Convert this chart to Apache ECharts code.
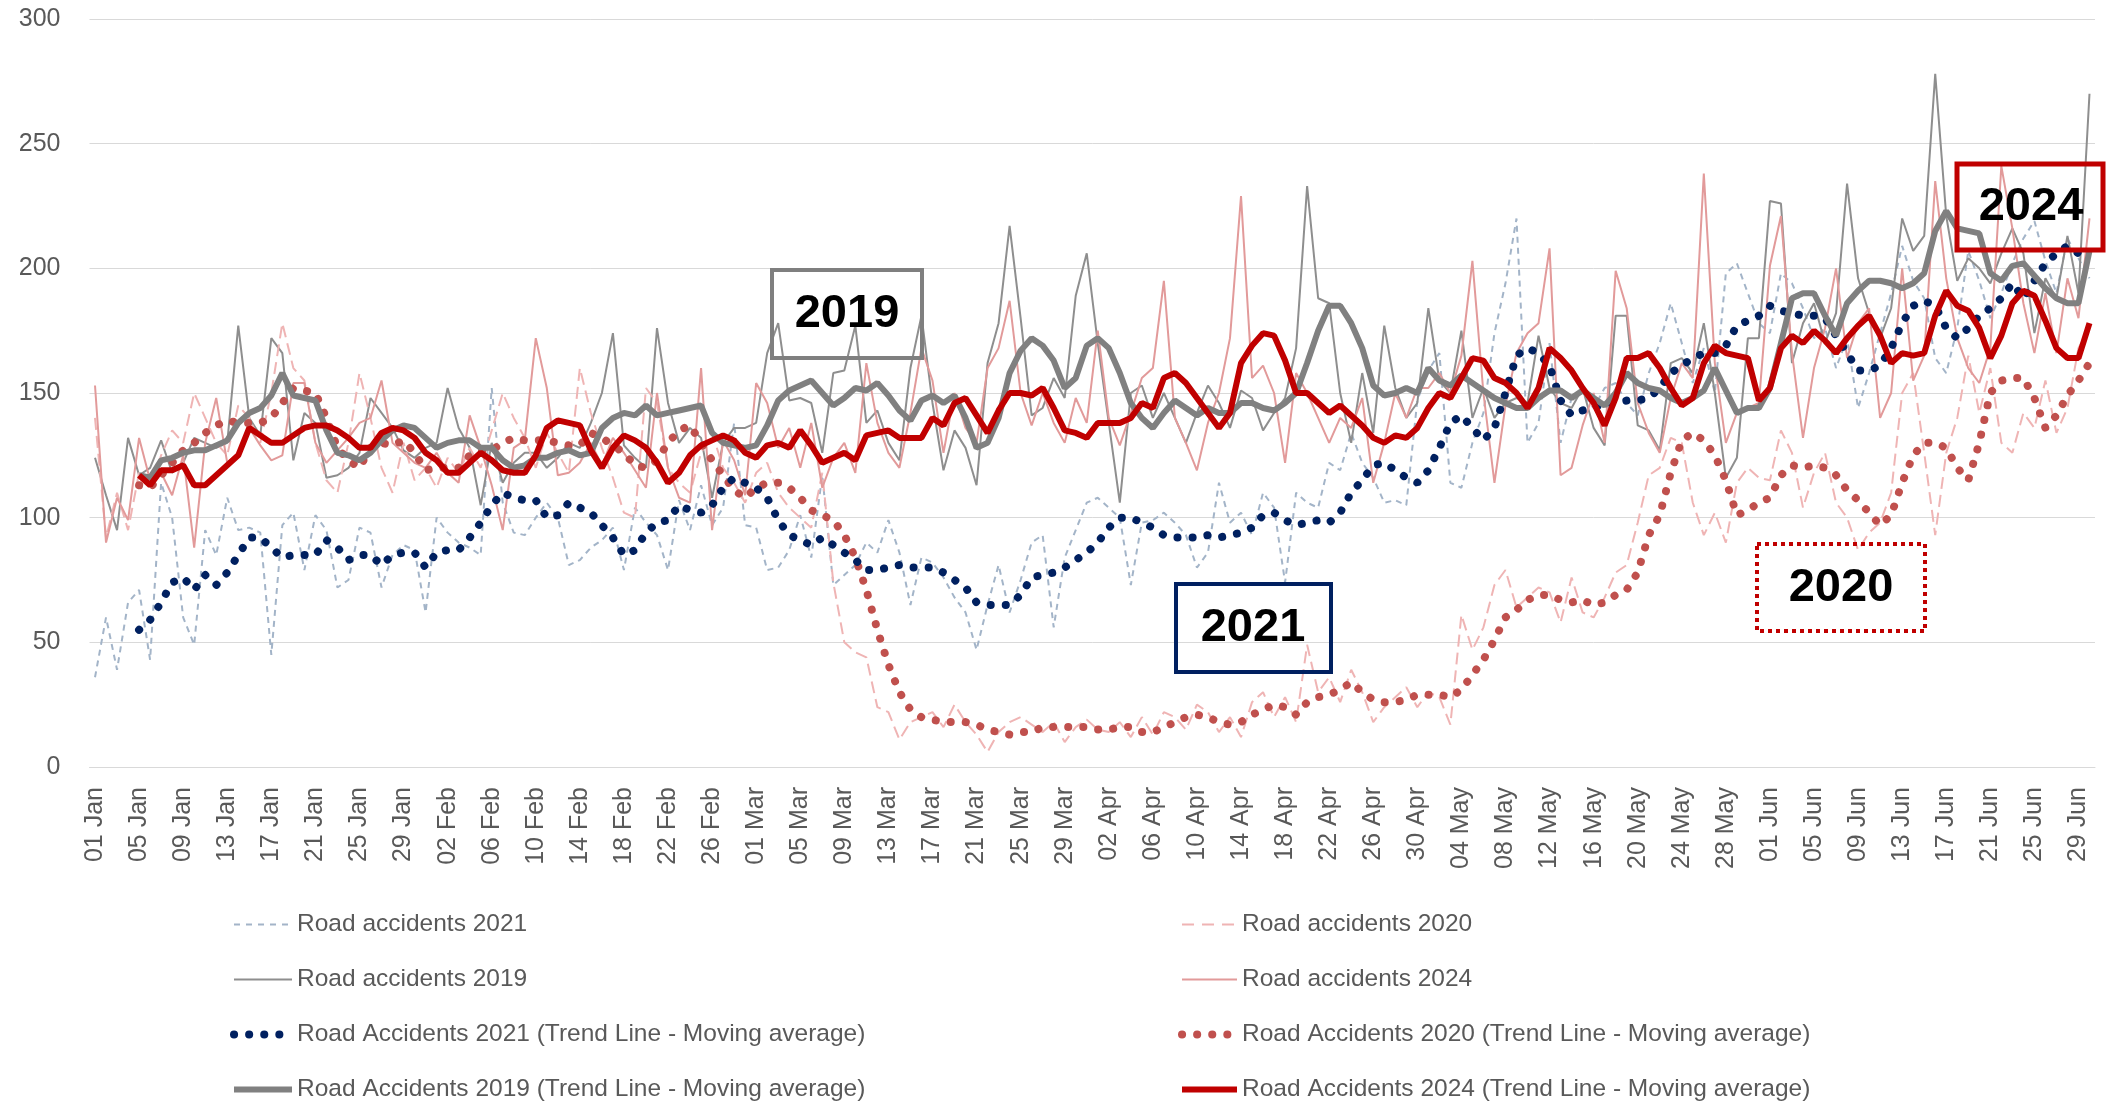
<!DOCTYPE html>
<html>

<head>
    <meta charset="UTF-8">
    <title>Road accidents</title>
    <script src="https://cdn.jsdelivr.net/npm/echarts@6/dist/echarts.min.js"></script>
    <style>
        html, body { margin: 0; padding: 0; background: #fff; }
        #chart { width: 2106px; height: 1102px; }
    </style>
</head>

<body>
    <div id="chart"></div>

    <script>
        // days 01 Jan .. 30 Jun (leap year layout)
        var months = [['Jan', 31], ['Feb', 29], ['Mar', 31], ['Apr', 30], ['May', 31], ['Jun', 30]];
        var categories = [];
        months.forEach(function (m) {
            for (var d = 1; d <= m[1]; d++) categories.push((d < 10 ? '0' : '') + d + ' ' + m[0]);
        });

        var yTicks = [0, 50, 100, 150, 200, 250, 300];

        var raw2021 = [
            36, 60, 39, 66, 71, 43, 114, 100, 60, 49,
            95, 85, 108, 95, 96, 94, 45, 97, 102, 79,
            101, 95, 72, 75, 96, 94, 72, 85, 89, 87,
            62, 100, 94, 90, 88, 85, 152, 106, 94, 93,
            100, 106, 100, 81, 83, 88, 91, 96, 79, 104,
            98, 93, 79, 107, 95, 113, 97, 104, 138, 97,
            96, 79, 80, 87, 101, 84, 117, 73, 77, 81,
            90, 86, 99, 86, 65, 84, 82, 76, 68, 62,
            47, 65, 81, 62, 75, 90, 93, 56, 84, 95,
            106, 108, 104, 100, 73, 98, 99, 102, 98, 93,
            80, 86, 114, 98, 102, 93, 110, 104, 74, 110,
            106, 104, 122, 119, 134, 122, 116, 106, 107, 105,
            147, 159, 166, 114, 112, 130, 142, 174, 194, 220,
            130, 138, 170, 130, 148, 150, 144, 152, 154, 146,
            141, 158, 170, 186, 170, 154, 168, 150, 198, 202,
            190, 178, 174, 198, 194, 184, 172, 176, 160, 172,
            144, 158, 174, 190, 209, 195, 188, 164, 158, 176,
            207, 195, 180, 190, 202, 212, 219, 203, 190, 212,
            204, 196
        ];

        var raw2019 = [
            124, 109, 95, 132, 117, 120, 131, 118, 122, 132,
            130, 128, 130, 177, 140, 133, 172, 166, 123, 142,
            138, 116, 117, 120, 126, 148, 142, 136, 127, 124,
            128, 130, 152, 136, 128, 105, 130, 114, 122, 126,
            126, 120, 124, 130, 128, 138, 150, 174, 129, 124,
            120, 176, 146, 130, 136, 132, 108, 130, 136, 136,
            138, 166, 178, 147, 148, 146, 126, 158, 159, 177,
            138, 143, 130, 123, 160, 181, 146, 119, 135, 128,
            113, 162, 178, 217, 180, 141, 144, 156, 148, 189,
            206, 170, 138, 106, 150, 153, 140, 150, 140, 130,
            142, 153, 146, 136, 151, 148, 135, 142, 148, 168,
            233, 188, 186, 150, 130, 158, 134, 177, 152, 140,
            146, 184, 155, 150, 175, 140, 152, 140, 146, 148,
            146, 173, 152, 146, 144, 152, 136, 129, 181, 181,
            137, 135, 127, 162, 164, 158, 178, 150, 116, 124,
            172, 172, 227, 226, 162, 178, 186, 170, 182, 234,
            196, 182, 172, 184, 220, 207, 213, 278, 221, 195,
            204, 200, 194, 206, 216, 206, 174, 196, 188, 213,
            190, 270
        ];

        var raw2020 = [
            140, 92, 110, 95, 118, 112, 125, 135, 130, 150,
            140, 130, 125, 145, 140, 130, 150, 178, 160, 155,
            130, 115, 110, 130, 158, 140, 120, 110, 130, 115,
            120, 112, 124, 118, 128, 120, 135, 150, 140, 132,
            120, 134, 126, 118, 160, 142, 128, 116, 102, 100,
            152, 146, 120, 114, 110, 126, 134, 120, 114, 106,
            118, 122, 110, 104, 100, 96, 118, 74, 50, 46,
            44, 24, 22, 11, 18, 20, 22, 16, 25, 18,
            13, 6, 14, 18, 20, 17, 14, 18, 10, 16,
            19, 15, 14, 18, 12, 20, 13, 22, 20, 15,
            25, 22, 14, 20, 12, 26, 30, 20, 28, 18,
            49, 30, 36, 26, 39, 30, 18, 24, 28, 32,
            24, 30, 28, 17, 61, 47, 56, 73, 79, 64,
            68, 72, 70, 58, 76, 62, 60, 68, 78, 81,
            98, 117, 120, 132, 130, 106, 93, 102, 90, 114,
            120, 116, 115, 135, 126, 104, 118, 126, 106, 100,
            87, 94, 98, 110, 150, 158, 126, 93, 126, 140,
            165, 142, 160, 130, 126, 142, 136, 155, 134, 144,
            168, 176
        ];

        var raw2024 = [
            153, 90, 108, 99, 132, 115, 118, 109, 125, 88,
            130, 148, 122, 126, 136, 129, 123, 125, 154, 154,
            130, 122, 127, 132, 138, 140, 155, 130, 126, 122,
            120, 126, 118, 114, 141, 128, 113, 95, 128, 131,
            172, 152, 117, 118, 122, 130, 121, 132, 126, 119,
            112, 150, 120, 108, 106, 160, 95, 131, 123, 109,
            154, 146, 128, 136, 120, 138, 112, 124, 130, 118,
            162, 138, 126, 120, 142, 168, 155, 126, 150, 136,
            130, 160, 168, 187, 150, 137, 150, 138, 130, 148,
            138, 175, 140, 129, 142, 156, 160, 195, 140, 130,
            119, 138, 150, 172, 229, 156, 161, 150, 122, 158,
            150, 140, 130, 140, 136, 148, 114, 130, 150, 140,
            152, 152, 158, 150, 165, 203, 150, 114, 145, 166,
            174, 178, 208, 117, 120, 137, 150, 130, 199, 184,
            146, 134, 126, 148, 162, 156, 238, 162, 130, 142,
            144, 146, 201, 221, 166, 132, 160, 176, 200, 164,
            178, 184, 140, 150, 200, 155, 165, 235, 196, 172,
            160, 154, 168, 241, 216, 186, 166, 190, 166, 196,
            180, 220
        ];

        // moving-average trend lines
        var trend2021 = [
            null, null, null, null, 55, 59, 66, 74, 76, 71,
            77, 73, 78, 85, 92, 92, 88, 84, 85, 85,
            85, 91, 88, 83, 85, 85, 81, 85, 86, 86,
            80, 86, 87, 87, 92, 98, 105, 110, 108, 107,
            107, 100, 101, 106, 104, 102, 97, 92, 85, 87,
            94, 98, 99, 105, 103, 102, 105, 112, 116, 114,
            112, 108, 99, 93, 91, 89, 92, 89, 86, 83,
            79, 79, 80, 81, 80, 80, 80, 78, 75, 72,
            66, 65, 65, 65, 69, 76, 77, 78, 80, 83,
            86, 90, 96, 100, 100, 98, 96, 93, 92, 92,
            92, 93, 92, 93, 94, 96, 101, 102, 99, 97,
            98, 99, 98, 102, 110, 115, 121, 122, 119, 116,
            114, 119, 128, 138, 141, 136, 131, 136, 150, 165,
            168, 166, 161, 147, 141, 143, 144, 146, 146, 147,
            147, 148, 152, 158, 161, 164, 166, 166, 169, 177,
            179, 181, 185, 183, 182, 181, 181, 180, 173, 166,
            159, 159, 161, 168, 178, 185, 187, 185, 176, 172,
            176, 181, 184, 188, 194, 188, 195, 202, 206, 209,
            206, 206
        ];

        var trend2020 = [
            null, null, null, null, 113, 112, 117, 122, 127, 130,
            134, 137, 139, 138, 138, 138, 140, 146, 152, 151,
            150, 140, 128, 123, 120, 128, 130, 129, 131, 126,
            119, 120, 120, 120, 125, 127, 127, 130, 132, 131,
            131, 131, 130, 129, 129, 134, 132, 129, 126, 121,
            120, 123, 130, 135, 137, 130, 123, 117, 111, 108,
            112, 114, 114, 112, 108, 103, 101, 99, 93, 84,
            71, 55, 41, 30, 23, 20, 19, 18, 18, 18,
            17, 15, 14, 13, 14, 14, 16, 16, 16, 16,
            16, 15, 15, 16, 16, 14, 14, 16, 18, 20,
            21, 20, 18, 17, 18, 21, 23, 25, 24, 21,
            26, 28, 29, 31, 34, 30, 27, 26, 26, 27,
            29, 29, 29, 28, 31, 37, 43, 51, 60, 63,
            67, 69, 69, 67, 66, 67, 65, 66, 69, 71,
            78, 93, 101, 118, 131, 134, 131, 125, 115, 101,
            103, 106, 108, 117, 121, 120, 121, 120, 117, 111,
            107, 102, 97, 101, 114, 125, 130, 130, 128, 120,
            115, 130, 150, 155, 156, 156, 148, 136, 141, 149,
            155, 162
        ];

        var trend2019 = [
            null, null, null, null, 117, 116, 123, 124, 126, 127,
            127, 129, 131, 138, 142, 144, 149, 158, 149, 148,
            147, 135, 126, 125, 123, 126, 131, 135, 137, 136,
            132, 128, 130, 131, 131, 128, 128, 123, 120, 121,
            124, 124, 126, 127, 125, 126, 136, 140, 142, 141,
            145, 141, 142, 143, 144, 145, 134, 130, 129, 128,
            129, 137, 147, 151, 153, 155, 150, 145, 148, 152,
            151, 154, 149, 143, 139, 147, 149, 146, 149, 140,
            128, 130, 140, 158, 167, 172, 169, 163, 152, 156,
            169, 172, 168, 158, 146, 140, 136, 142, 147, 144,
            141, 144, 142, 142, 146, 146, 144, 143, 146, 150,
            162, 175, 185, 185, 178, 168, 153, 149, 150, 152,
            150, 160, 155, 153, 157, 154, 151, 148, 146, 144,
            144, 148, 151, 151, 148, 151, 148, 145, 150, 158,
            154, 152, 151, 148, 146, 148, 151, 160, 151, 142,
            144, 144, 152, 170, 188, 190, 190, 181, 173, 186,
            191, 195, 195, 194, 192, 194, 198, 215, 223, 216,
            215, 214, 198, 195, 201, 202, 197, 192, 188, 186,
            186, 207
        ];

        var trend2024 = [
            null, null, null, null, 117, 113, 119, 119, 121, 113,
            113, 117, 121, 125, 136, 133, 130, 130, 133, 136,
            137, 137, 135, 132, 128, 128, 134, 136, 135, 132,
            126, 123, 118, 118, 122, 126, 123, 119, 118, 118,
            125, 136, 139, 138, 137, 127, 120, 128, 133, 131,
            128, 122, 114, 118, 125, 129, 131, 133, 131, 126,
            124, 129, 130, 128, 135, 129, 122, 124, 126, 123,
            133, 134, 135, 132, 132, 132, 140, 137, 146, 148,
            141, 134, 143, 150, 150, 149, 152, 144, 135, 134,
            132, 138, 138, 138, 140, 146, 144, 156, 158, 154,
            148, 142, 136, 142, 162, 169, 174, 173, 163, 150,
            150, 146, 142, 145, 141, 137, 132, 130, 133, 132,
            136, 144, 150, 148, 156, 164, 163, 156, 154, 150,
            144, 152, 168, 164, 159, 152, 146, 137, 148, 164,
            164, 166, 160, 152, 145, 148, 162, 169, 166, 165,
            164, 147, 152, 168, 173, 170, 175, 171, 166, 172,
            177, 181, 173, 162, 166, 165, 166, 181, 191, 185,
            183, 176, 164, 173, 186, 191, 189, 179, 168, 164,
            164, 178
        ];

        var txtColor = '#595959';
        var axisFont = 'Liberation Sans, Arial, sans-serif';

        // series look: name, data, color, width, dash, cap
        function line(name, data, color, width, dash, cap) {
            return {
                name: name,
                type: 'line',
                data: data,
                symbol: 'none',
                connectNulls: false,
                lineStyle: { color: color, width: width, type: dash || 'solid', cap: cap || 'butt' },
                itemStyle: { color: color },
                emphasis: { disabled: true }
            };
        }

        var dots = [0.1, 15];

        var series = [
            line('Road accidents 2021', raw2021, '#a3b4c8', 2, [6, 5]),
            line('Road accidents 2019', raw2019, '#8e8e8e', 2),
            line('Road accidents 2020', raw2020, '#efb4b4', 2, [12, 6]),
            line('Road accidents 2024', raw2024, '#e29a9a', 2),
            line('Road Accidents 2020 (Trend Line - Moving average)', trend2020, '#c0504d', 8, dots, 'round'),
            line('Road Accidents 2021 (Trend Line - Moving average)', trend2021, '#002060', 8, dots, 'round'),
            line('Road Accidents 2019 (Trend Line - Moving average)', trend2019, '#808080', 6),
            line('Road Accidents 2024 (Trend Line - Moving average)', trend2024, '#c00000', 6)
        ];

        // legend entry: line only, no symbol
        function legendItem(name, color, width, dash, cap) {
            return {
                name: name,
                itemStyle: { opacity: 0 },
                lineStyle: { color: color, width: width, type: dash || 'solid', cap: cap || 'butt', opacity: 1 }
            };
        }

        var legendText = { fontFamily: axisFont, fontSize: 24.5, color: txtColor };

        var chart = echarts.init(document.getElementById('chart'), null, { renderer: 'canvas' });

        var option = {
            animation: false,
            backgroundColor: '#ffffff',
            grid: { left: 89.5, right: 11, top: 19, bottom: 335, containLabel: false },
            xAxis: {
                type: 'category',
                data: categories,
                boundaryGap: true,
                axisTick: { show: false },
                axisLine: { show: true, lineStyle: { color: '#d9d9d9', width: 1 } },
                axisLabel: {
                    interval: 3,
                    rotate: 90,
                    margin: 20,
                    fontSize: 25,
                    fontFamily: axisFont,
                    color: txtColor
                }
            },
            yAxis: {
                type: 'value',
                min: yTicks[0],
                max: yTicks[yTicks.length - 1],
                interval: 50,
                axisLine: { show: false },
                axisTick: { show: false },
                splitLine: { lineStyle: { color: '#d9d9d9', width: 1 } },
                axisLabel: { fontSize: 25, fontFamily: axisFont, color: txtColor, margin: 29 }
            },
            legend: [
                {
                    orient: 'vertical',
                    left: 230,
                    top: 912,
                    padding: 0,
                    itemWidth: 58,
                    itemHeight: 14,
                    itemGap: 30,
                    textStyle: legendText,
                    data: [
                        legendItem('Road accidents 2021', '#a3b4c8', 2, [6, 6]),
                        legendItem('Road accidents 2019', '#8e8e8e', 2),
                        legendItem('Road Accidents 2021 (Trend Line - Moving average)', '#002060', 8, [0.1, 15], 'round'),
                        legendItem('Road Accidents 2019 (Trend Line - Moving average)', '#808080', 6)
                    ]
                },
                {
                    orient: 'vertical',
                    left: 1178,
                    top: 912,
                    padding: 0,
                    itemWidth: 55,
                    itemHeight: 14,
                    itemGap: 30,
                    textStyle: legendText,
                    data: [
                        legendItem('Road accidents 2020', '#efb4b4', 2, [12, 8]),
                        legendItem('Road accidents 2024', '#e29a9a', 2),
                        legendItem('Road Accidents 2020 (Trend Line - Moving average)', '#c0504d', 8, [0.1, 15], 'round'),
                        legendItem('Road Accidents 2024 (Trend Line - Moving average)', '#c00000', 6)
                    ]
                }
            ],
            series: series,
            graphic: [
                // year call-out boxes
                { type: 'rect', z: 100, shape: { x: 772, y: 270, width: 150, height: 88 }, style: { fill: 'none', stroke: '#7f7f7f', lineWidth: 4 } },
                { type: 'text', z: 101, x: 847, y: 314, style: { text: '2019', font: 'bold 47px Liberation Sans, Arial', fill: '#000', align: 'center', verticalAlign: 'middle' } },
                { type: 'rect', z: 100, shape: { x: 1176, y: 584, width: 155, height: 88 }, style: { fill: 'none', stroke: '#002060', lineWidth: 4 } },
                { type: 'text', z: 101, x: 1253, y: 628, style: { text: '2021', font: 'bold 47px Liberation Sans, Arial', fill: '#000', align: 'center', verticalAlign: 'middle' } },
                { type: 'rect', z: 100, shape: { x: 1757, y: 544, width: 168, height: 87 }, style: { fill: 'none', stroke: '#c00000', lineWidth: 4, lineDash: [4, 4] } },
                { type: 'text', z: 101, x: 1841, y: 588, style: { text: '2020', font: 'bold 47px Liberation Sans, Arial', fill: '#000', align: 'center', verticalAlign: 'middle' } },
                { type: 'rect', z: 100, shape: { x: 1957, y: 164, width: 146, height: 86 }, style: { fill: 'none', stroke: '#c00000', lineWidth: 5 } },
                { type: 'text', z: 101, x: 2031, y: 207, style: { text: '2024', font: 'bold 47px Liberation Sans, Arial', fill: '#000', align: 'center', verticalAlign: 'middle' } }
            ]
        };

        chart.setOption(option);

        window.addEventListener('resize', function () {
            chart.resize();
        });
    </script>
</body>

</html>
